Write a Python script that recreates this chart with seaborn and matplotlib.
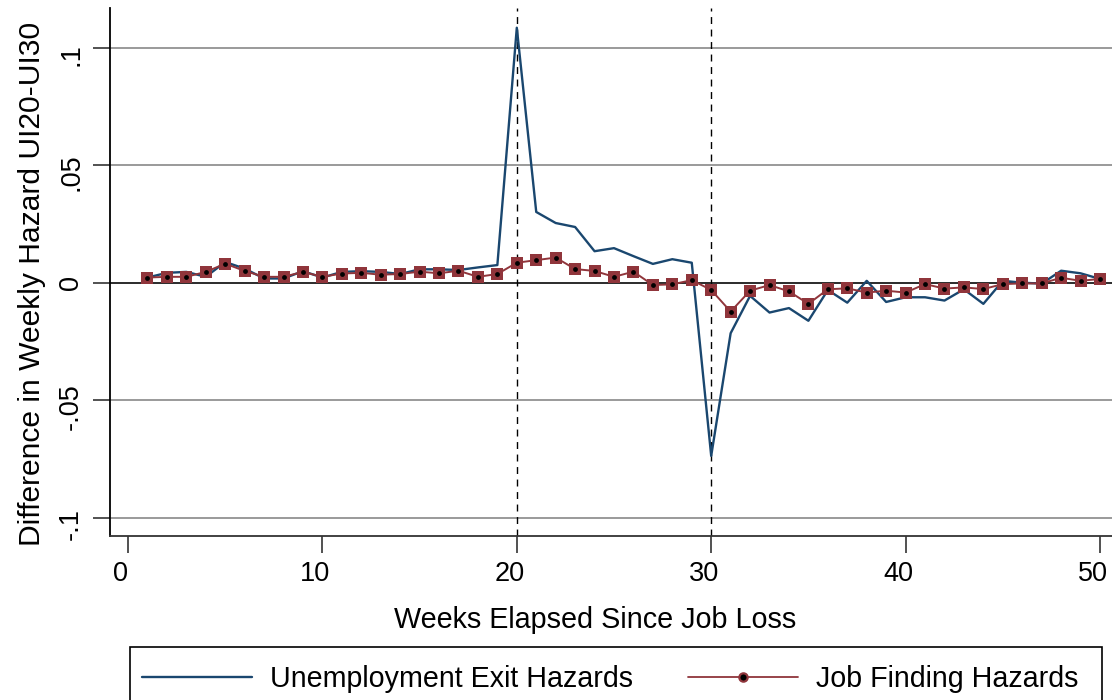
import numpy as np
import pandas as pd
import matplotlib
matplotlib.use("Agg")
import matplotlib.pyplot as plt
from matplotlib.lines import Line2D
from matplotlib.patches import Rectangle
import matplotlib.transforms as mtransforms
import seaborn as sns

# ---------------- data ----------------
weeks = list(range(1, 51))
exit_hazard = [0.0022, 0.0042, 0.0046, 0.0025, 0.0088, 0.0060, 0.0018, 0.0018, 0.0049, 0.0022,
               0.0046, 0.0049, 0.0046, 0.0037, 0.0057, 0.0057, 0.0054, 0.0065, 0.0075, 0.1085,
               0.0301, 0.0254, 0.0237, 0.0134, 0.0147, 0.0113, 0.0080, 0.0100, 0.0085, -0.0737,
               -0.0215, -0.0056, -0.0127, -0.0108, -0.0162, -0.0031, -0.0085, 0.0008, -0.0082, -0.0062,
               -0.0062, -0.0076, -0.0028, -0.0090, 0.0008, 0.0000, -0.0004, 0.0051, 0.0040, 0.0016]
find_hazard = [0.0022, 0.0025, 0.0025, 0.0046, 0.0081, 0.0050, 0.0025, 0.0025, 0.0046, 0.0025,
               0.0039, 0.0042, 0.0034, 0.0037, 0.0047, 0.0040, 0.0051, 0.0025, 0.0037, 0.0085,
               0.0096, 0.0107, 0.0058, 0.0050, 0.0025, 0.0047, -0.0010, -0.0007, 0.0011, -0.0031,
               -0.0123, -0.0034, -0.0010, -0.0037, -0.0090, -0.0028, -0.0024, -0.0042, -0.0034, -0.0042,
               -0.0006, -0.0025, -0.0020, -0.0027, -0.0006, -0.0003, -0.0003, 0.0021, 0.0008, 0.0016]
series_labels = ["Unemployment Exit Hazards", "Job Finding Hazards"]
x_ticks = [0, 10, 20, 30, 40, 50]
y_ticks = [-0.1, -0.05, 0, 0.05, 0.1]
y_tick_labels = ["-.1", "-.05", "0", ".05", ".1"]
vlines_at = [20, 30]
x_label = "Weeks Elapsed Since Job Loss"
y_label = "Difference in Weekly Hazard UI20-UI30"

df = pd.DataFrame({"week": weeks, "exit": exit_hazard, "find": find_hazard})

# ---------------- style ----------------
sns.set_style("white")
plt.rcParams["font.family"] = ["Liberation Sans", "DejaVu Sans"]

BLUE = "#1a476f"
RED = "#90353b"

W, H = 1112, 700
fig = plt.figure(figsize=(W / 100, H / 100), dpi=100)
fig.patch.set_facecolor("white")

# axes placement in pixels: left 110, right 1112, top 8, bottom 536
L, R, T, B = 110, 1112, 8, 536
ax = fig.add_axes([L / W, 1 - B / H, (R - L) / W, (B - T) / H])
ax.set_facecolor("white")

# gridlines
for yv in y_ticks:
    if yv == 0:
        continue
    ax.axhline(yv, color="#9a9a9a", lw=1.4, zorder=1)
ax.axhline(0, color="#2b2b2b", lw=1.4, zorder=1)
for xv in vlines_at:
    ax.axvline(xv, color="black", lw=1.0, linestyle=(0, (5, 4)), zorder=2)

sns.lineplot(data=df, x="week", y="exit", ax=ax, color=BLUE, lw=1.7, zorder=3)
sns.lineplot(data=df, x="week", y="find", ax=ax, color=RED, lw=1.4, marker="s",
             markersize=8.0, markeredgewidth=0, markerfacecolor=RED, zorder=4)
sns.scatterplot(data=df, x="week", y="find", ax=ax, color="black", s=12, linewidth=0, zorder=5)

ax.set_xlim((L - 128) / 19.44, (R - 128) / 19.44)
ax.set_ylim((282.7 - B) / 2350, (282.7 - T) / 2350)

ax.set_xticks(x_ticks)
ax.set_xticklabels([str(v) for v in x_ticks])
ax.set_yticks(y_ticks)
ax.set_yticklabels(y_tick_labels)
ax.tick_params(axis="both", which="major", direction="out", length=12, width=1.2,
               color="#333333", labelsize=19.5, labelcolor="black",
               bottom=True, left=True, top=False, right=False)
ax.tick_params(axis="x", pad=6.3)
ax.tick_params(axis="y", pad=6.7, labelrotation=90)
for lab in ax.get_yticklabels():
    lab.set_va("center")
    shift = 0 if lab.get_text() == "0" else -6.5
    lab.set_transform(lab.get_transform() +
                      mtransforms.ScaledTranslation(0, shift / 100, fig.dpi_scale_trans))
for lab in ax.get_xticklabels():
    lab.set_transform(lab.get_transform() +
                      mtransforms.ScaledTranslation(-7 / 100, 0, fig.dpi_scale_trans))

for s in ["top", "right"]:
    ax.spines[s].set_visible(False)
ax.spines["left"].set_color("black")
ax.spines["left"].set_linewidth(1.3)
ax.spines["bottom"].set_color("#333333")
ax.spines["bottom"].set_linewidth(1.3)

ax.set_xlabel(x_label, fontsize=20.7, color="black")
ax.set_ylabel(y_label, fontsize=21.6, color="black")
ax.xaxis.set_label_coords((595 - L) / (R - L), (B - 620) / (B - T))
ax.xaxis.label.set_va("center")
ax.yaxis.set_label_coords((32 - L) / (R - L), (B - 283.5) / (B - T))
ax.yaxis.label.set_va("center")

# legend
handles = [
    Line2D([0], [0], color=BLUE, lw=1.7),
    Line2D([0], [0], color=RED, lw=1.3, marker="o", markersize=6,
           markerfacecolor="black", markeredgecolor=RED, markeredgewidth=1.6),
]
fig.legend(handles, series_labels, loc="center left",
           bbox_to_anchor=(142 / W, 1 - 679 / H), ncol=2, frameon=False,
           borderpad=0, borderaxespad=0, handlelength=3.85, handletextpad=0.62,
           columnspacing=1.92, fontsize=20.6, labelcolor="black")
fig.patches.append(Rectangle((130 / W, -0.05), (1102 - 130) / W, (H - 647) / H + 0.05,
                             transform=fig.transFigure, fill=False, ec="black", lw=1.2))

fig.savefig("out.png", dpi=100, facecolor="white")
